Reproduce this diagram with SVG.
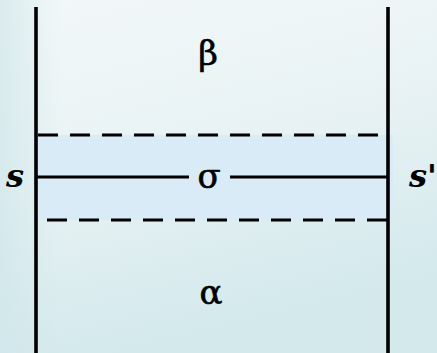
<svg xmlns="http://www.w3.org/2000/svg" width="437" height="353" viewBox="0 0 437 353">
<defs>
<linearGradient id="bg" x1="0" y1="0" x2="0.3" y2="1">
<stop offset="0" stop-color="#f3f8f9"/>
<stop offset="0.5" stop-color="#e8f2f4"/>
<stop offset="1" stop-color="#d3e9ec"/>
</linearGradient>
<linearGradient id="side" x1="0" y1="0" x2="1" y2="0">
<stop offset="0" stop-color="#cfe6ea" stop-opacity="0.7"/>
<stop offset="1" stop-color="#cfe6ea" stop-opacity="0"/>
</linearGradient>
</defs>
<style>
.wall{stroke:#000;stroke-width:3.6;fill:none}
.dash{stroke:#000;stroke-width:3.2;stroke-dasharray:20 12;fill:none}
.solid{stroke:#000;stroke-width:3.2;fill:none}
.greek{font-family:"DejaVu Serif","Liberation Serif",serif;font-size:34px;fill:#000;stroke:#000;stroke-width:0.6;text-anchor:middle}
.lbl{font-family:"DejaVu Serif","Liberation Serif",serif;font-style:italic;font-weight:bold;font-size:32px;fill:#000;text-anchor:middle}
</style>
<rect width="437" height="353" fill="url(#bg)"/>
<rect width="60" height="353" fill="url(#side)"/>
<rect x="37" y="135" width="356" height="85" fill="#d8ebf6"/>
<g id="connectors">
<line class="wall" x1="36" y1="7" x2="36" y2="353"/>
<line class="wall" x1="388" y1="7" x2="388" y2="353"/>
<line class="dash" x1="38" y1="135" x2="388" y2="135"/>
<line class="dash" x1="47" y1="220" x2="388" y2="220"/>
<line class="solid" x1="36" y1="177" x2="189" y2="177"/>
<line class="solid" x1="230" y1="177" x2="388" y2="177"/>
</g>
<g id="beta"><text class="greek" x="208" y="65">β</text></g>
<g id="sigma"><text class="greek" x="209" y="188">σ</text></g>
<g id="alpha"><text class="greek" x="211" y="304">α</text></g>
<g id="s"><text class="lbl" x="15" y="187">s</text></g>
<g id="sprime"><text class="lbl" x="423" y="187">s'</text></g>
</svg>
